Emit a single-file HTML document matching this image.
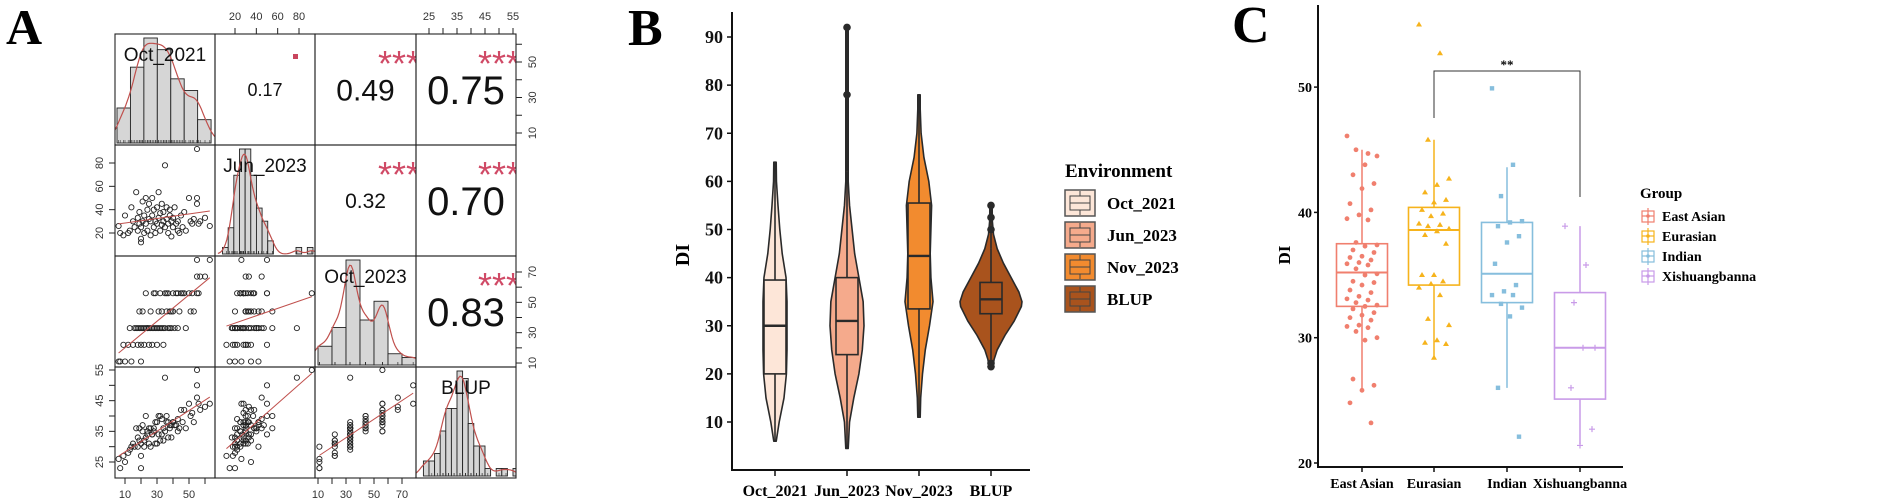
<!DOCTYPE html>
<html><head><meta charset="utf-8">
<style>
html,body{margin:0;padding:0;background:#fff;}
svg{display:block;}
text{font-family:"Liberation Sans",sans-serif;}
.serif{font-family:"Liberation Serif",serif;font-weight:bold;}
</style></head>
<body>
<svg id="fig" width="1890" height="502" viewBox="0 0 1890 502" xmlns="http://www.w3.org/2000/svg">
<text class="serif" x="6" y="44" font-size="50">A</text>
<text class="serif" x="628" y="45" font-size="52">B</text>
<text class="serif" x="1232" y="42" font-size="52">C</text>
<g id="pa"></g>
<g id="pb"></g>
<g id="pc"></g>
</svg>
<script>
// ---------- Panel A data ----------
const varNames = ["Oct_2021","Jun_2023","Oct_2023","BLUP"];
const oct21 = [6,7,9,10,12,13,14,15,16,17,18,18,19,19,20,20,20,21,21,22,22,23,23,24,24,25,25,26,26,27,27,28,28,29,29,30,30,31,31,32,32,33,33,34,34,35,35,36,36,37,37,38,38,39,39,40,40,41,42,43,43,44,45,46,47,48,50,51,52,53,55,55,55,56,57,60,63];
const jun23 = [26,20,18,35,20,22,42,30,25,55,22,33,28,38,12,15,25,47,30,20,35,50,28,40,22,32,45,18,30,35,50,25,40,30,20,42,28,33,55,22,37,27,45,30,38,25,78,32,42,20,28,35,40,30,17,25,33,42,28,22,30,20,35,25,38,22,50,30,28,32,92,45,50,28,30,33,26];
const oct23 = [11,11,22,11,22,33,11,22,33,33,22,33,33,44,22,11,33,33,44,33,22,56,33,33,33,22,33,33,44,33,22,56,33,56,33,33,22,33,44,33,56,33,44,22,33,56,33,56,44,33,56,44,33,44,33,56,44,33,56,56,33,44,56,56,56,33,56,44,56,44,56,67,78,56,67,67,78];
const blup = [26,23,27,25,28,29,30,31,30,36,30,33,32,36,27,23,31,37,35,30,32,40,33,35,34,31,36,30,36,34,34,35,36,38,31,38,31,34,40,32,40,34,39,32,36,35,52.5,40,38,33,38,37,36,37,33,38,38,37,37,39,35,36,42,38,42,36,44,40,41,38,55,46,50,44,42,43,44];
const corrValues = ["0.17","0.49","0.75","0.32","0.70","0.83"];
const corrStars = [".","***","***","***","***","***"];
const topTicksJun = [20,40,60,80];
const topTicksBlup = [25,30,35,40,45,50,55];
const rightTicksOct21 = [10,20,30,40,50,60];
const rightTicksOct23 = [10,20,30,40,50,60,70];
const leftTicksJun = [20,40,60,80];
const leftTicksBlup = [25,30,35,40,45,50,55];
const botTicksOct21 = [10,20,30,40,50,60];
const botTicksOct23 = [10,20,30,40,50,60,70];

// ---------- Panel B data ----------
const envNames = ["Oct_2021","Jun_2023","Nov_2023","BLUP"];
const envColors = ["#fde6d8","#f5aa8c","#f28b2f","#a9531d"];
const vioY = [
 [6,10,15,20,25,30,35,40,45,50,55,60,64],
 [4.5,10,15,20,25,30,35,40,45,50,55,60,65,70,80,92],
 [11,15,20,25,30,35,40,45,50,55,60,65,70,75,78],
 [21,23,25,28,31,34,35,37,40,43,46,49,52,55]];
const vioD = [
 [0.04,0.35,0.75,0.95,1,1,1,0.92,0.6,0.4,0.25,0.12,0.03],
 [0.03,0.15,0.4,0.7,0.9,1,0.95,0.7,0.45,0.3,0.15,0.07,0.04,0.03,0.03,0.03],
 [0.06,0.12,0.25,0.45,0.75,1,0.85,0.8,0.85,0.9,0.7,0.35,0.15,0.06,0.04],
 [0.05,0.1,0.2,0.45,0.75,0.98,1,0.9,0.65,0.4,0.2,0.08,0.04,0.03]];
const vioMaxHalf = [12,17,14,31];
const boxQ1 = [20,24,33.5,32.5];
const boxMed = [30,31,44.5,35.5];
const boxQ3 = [39.5,40,55.5,39];
const whLo = [6,4.5,11,23];
const whHi = [64,62,78,46];
const outliers = [[],[78,92],[],[50,52.5,55,21.5,22.2]];
const bTicks = [10,20,30,40,50,60,70,80,90];

// ---------- Panel C data ----------
const grpNames = ["East Asian","Eurasian","Indian","Xishuangbanna"];
const grpColors = ["#f07f6e","#f6b31c","#86bedd","#c99be8"];
const cQ1 = [32.5,34.2,32.8,25.1];
const cMed = [35.2,38.6,35.1,29.2];
const cQ3 = [37.5,40.4,39.2,33.6];
const cLo = [25.8,28.4,26.0,21.5];
const cHi = [45.0,45.8,43.6,38.9];
const ptsEA = [46.1,44.7,45,44.5,43.8,43,42.3,41.9,40.7,40.2,39.8,39.5,39.4,37.6,37.4,37.3,37,36.8,36.5,36.4,36.2,36,35.9,35.8,35.5,35.1,35,34.5,34.4,34.2,33.8,33.6,33.3,33.1,33,32.8,32.6,32.5,32.3,32,31.8,31.6,31.4,31,30.9,30.8,30.5,30,29.8,26.7,26.2,25.8,24.8,23.2];
const ptsEU = [55,52.7,45.8,42.7,42.2,41.6,41,40.8,40.2,39.9,39.7,39.1,39,38.9,38.7,38.5,38.2,37.5,35,35,34.5,34.3,34,33.4,31.5,31,29.8,29.6,29.5,28.4];
const ptsIN = [49.9,43.8,41.3,39.3,39.2,38.9,38.1,37.6,35.9,34.2,33.7,33.4,33.4,32.7,32.4,31.7,26,22.1];
const ptsXI = [38.9,35.8,32.8,29.2,29.2,26,22.7,21.4];
const cTicks = [20,30,40,50];

const NS="http://www.w3.org/2000/svg";
function mk(parent,tag,attrs,txt){const e=document.createElementNS(NS,tag);for(const k in attrs)e.setAttribute(k,attrs[k]);if(txt!==undefined)e.textContent=txt;parent.appendChild(e);return e;}

// ================= Panel A =================
(function(){
 const g=document.getElementById('pa');
 const colX=[115,215,315,416,516], rowY=[34,145,256,367,478];
 const data=[oct21,jun23,oct23,blup];
 const xm=[v=>125+(v-10)*1.6, v=>235+(v-20)*1.0667, v=>318+(v-10)*1.4, v=>429+(v-25)*2.8];
 const ym=[v=>62-(v-50)*1.775, v=>163-(v-80)*1.1667, v=>272-(v-70)*1.517, v=>370-(v-55)*3.067];
 const defs=mk(g,'defs',{});
 for(let r=0;r<4;r++)for(let c=0;c<4;c++){
  const cp=mk(defs,'clipPath',{id:'cl'+r+c});
  mk(cp,'rect',{x:colX[c],y:rowY[r],width:colX[c+1]-colX[c],height:rowY[r+1]-rowY[r]});
 }
 const n=oct21.length;
 let ci=0;
 for(let r=0;r<4;r++)for(let c=0;c<4;c++){
  const cell=mk(g,'g',{'clip-path':'url(#cl'+r+c+')'});
  
  
  if(r>c){
   for(let i=0;i<n;i++){
    const p=mk(cell,'circle',{cx:xm[c](data[c][i]),cy:ym[r](data[r][i]),r:2.6,fill:'none',stroke:'#222','stroke-width':0.9});
    
    
   }
   let mx=0,my=0;for(let i=0;i<n;i++){mx+=data[c][i];my+=data[r][i];}mx/=n;my/=n;
   let sxy=0,sxx=0;for(let i=0;i<n;i++){sxy+=(data[c][i]-mx)*(data[r][i]-my);sxx+=(data[c][i]-mx)**2;}
   const b=sxy/sxx;const x0=Math.min(...data[c]),x1=Math.max(...data[c]);
   const fl=mk(cell,'line',{x1:xm[c](x0),y1:ym[r](my+b*(x0-mx)),x2:xm[c](x1),y2:ym[r](my+b*(x1-mx)),stroke:'#c0504d','stroke-width':1});
   
   
  } else if(r===c){
   const v=data[r];
   const bw=[8.4,5.3,10,2][r], st=[5,3,10,21][r];
   const nb=Math.ceil((Math.max(...v)-st)/bw)+1;
   const cnt=new Array(nb).fill(0);v.forEach(x=>cnt[Math.floor((x-st)/bw)]++);
   const mxc=Math.max(...cnt);const base=rowY[r+1]-2, top=rowY[r]+4;
   const hs=(base-top)/mxc;
   for(let k=0;k<nb;k++){if(!cnt[k])continue;
    const bar=mk(cell,'rect',{x:xm[r](st+k*bw),y:base-cnt[k]*hs,width:xm[r](st+(k+1)*bw)-xm[r](st+k*bw),height:cnt[k]*hs,fill:'#d6d6d6',stroke:'#222','stroke-width':0.9});
    
    
   }
   const sd=Math.sqrt(v.reduce((a,x)=>a+x*x,0)/n-(v.reduce((a,x)=>a+x,0)/n)**2);
   const h=1.06*sd*Math.pow(n,-0.2)*0.7;
   const lo=Math.min(...v)-2*h, hi=Math.max(...v)+2*h;
   let pts=[],dmax=0;const dens=[];
   for(let s=0;s<=80;s++){const x=lo+(hi-lo)*s/80;let d=0;v.forEach(y=>d+=Math.exp(-0.5*((x-y)/h)**2));dens.push([x,d]);dmax=Math.max(dmax,d);}
   const peak=mxc*hs*0.95;
   dens.forEach(([x,d])=>pts.push(xm[r](x).toFixed(1)+','+(base-d/dmax*peak).toFixed(1)));
   const dl=mk(cell,'polyline',{points:pts.join(' '),fill:'none',stroke:'#c0504d','stroke-width':1.2});
   
   
   v.forEach(x=>{mk(cell,'line',{x1:xm[r](x),x2:xm[r](x),y1:base,y2:base-3,stroke:'#333','stroke-width':0.6});});
   const lbl=mk(cell,'text',{x:(colX[c]+colX[c+1])/2,y:rowY[r]+27,'text-anchor':'middle','font-size':19,fill:'#111'},varNames[r]);
   
   
  } else {
   const val=corrValues[ci], star=corrStars[ci]; ci++;
   const rv=parseFloat(val);
   const fs=rv<0.2?18:rv<0.4?21:rv<0.6?30:40;
   const cx=(colX[c]+colX[c+1])/2, cy=(rowY[r]+rowY[r+1])/2+fs*0.36;
   const t=mk(cell,'text',{x:cx,y:cy,'text-anchor':'middle','font-size':fs,fill:'#111'},val);
   
   
   if(star==='.'){
    const s=mk(cell,'rect',{x:colX[c+1]-22,y:rowY[r]+20,width:5,height:5,fill:'#c9455e'});
    
    
   } else {
    const s=mk(cell,'text',{x:colX[c+1]+4,y:rowY[r]+42,'text-anchor':'end','font-size':36,fill:'#d04a66'},star);
    
    
   }
  }
 }
 for(let r=0;r<4;r++)for(let c=0;c<4;c++){
  const b=mk(g,'rect',{x:colX[c],y:rowY[r],width:colX[c+1]-colX[c],height:rowY[r+1]-rowY[r],fill:'none',stroke:'#222','stroke-width':1.1});
  
  
 }
 function axis(ticks,map,side,labelEvery){
  ticks.forEach((t,i)=>{
   const p=map(t);
   let l;
   if(side==='top'){l=mk(g,'line',{x1:p,x2:p,y1:34,y2:28,stroke:'#222'});
     if(i%labelEvery===0)mk(g,'text',{x:p,y:20,'text-anchor':'middle','font-size':11,fill:'#333'},t);}
   if(side==='bottom'){l=mk(g,'line',{x1:p,x2:p,y1:478,y2:484,stroke:'#222'});
     if(i%labelEvery===0)mk(g,'text',{x:p,y:498,'text-anchor':'middle','font-size':11,fill:'#333'},t);}
   if(side==='left'){l=mk(g,'line',{x1:115,x2:109,y1:p,y2:p,stroke:'#222'});
     if(i%labelEvery===0)mk(g,'text',{x:0,y:0,'text-anchor':'middle','font-size':11,fill:'#333',transform:'translate(103,'+p+') rotate(-90)'},t);}
   if(side==='right'){l=mk(g,'line',{x1:516,x2:522,y1:p,y2:p,stroke:'#222'});
     if(i%labelEvery===0)mk(g,'text',{x:0,y:0,'text-anchor':'middle','font-size':11,fill:'#333',transform:'translate(536,'+p+') rotate(-90)'},t);}
   
   
  });
 }
 axis(topTicksJun,xm[1],'top',1);
 axis(topTicksBlup,xm[3],'top',2);
 axis(rightTicksOct21,ym[0],'right',2);
 axis(rightTicksOct23,ym[2],'right',2);
 axis(leftTicksJun,ym[1],'left',1);
 axis(leftTicksBlup,ym[3],'left',2);
 axis(botTicksOct21,xm[0],'bottom',2);
 axis(botTicksOct23,xm[2],'bottom',2);
})();

// ================= Panel B =================
(function(){
 const g=document.getElementById('pb');
 const y=v=>422-(v-10)*4.8125;
 const xs=[775,847,919,991];
 const ax=mk(g,'path',{d:'M732,12 V470 H1030',fill:'none',stroke:'#111','stroke-width':2});
 
 
 bTicks.forEach(t=>{
  mk(g,'line',{x1:727,x2:732,y1:y(t),y2:y(t),stroke:'#111','stroke-width':1.5});
  const l=mk(g,'text',{x:723,y:y(t)+6,'text-anchor':'end','font-size':18,class:'serif',fill:'#111'},t);
  
  
 });
 const yl=mk(g,'text',{x:0,y:0,'text-anchor':'middle','font-size':20,class:'serif',transform:'translate(689,255) rotate(-90)'},'DI');
 
 
 envNames.forEach((nm,i)=>{
  const cx=xs[i];
  mk(g,'line',{x1:cx,x2:cx,y1:470,y2:476,stroke:'#111','stroke-width':1.5});
  const l=mk(g,'text',{x:cx,y:496,'text-anchor':'middle','font-size':16,class:'serif'},nm);
  
  
  const Y=vioY[i],D=vioD[i],mh=vioMaxHalf[i];
  let d='M'+cx+','+y(Y[0]);
  for(let k=0;k<Y.length;k++)d+=' L'+(cx+Math.max(D[k]*mh,1.2))+','+y(Y[k]);
  for(let k=Y.length-1;k>=0;k--)d+=' L'+(cx-Math.max(D[k]*mh,1.2))+','+y(Y[k]);
  d+='Z';
  const vp=mk(g,'path',{d:d,fill:envColors[i],stroke:'#2a2a2a','stroke-width':1.6,'stroke-linejoin':'round'});
  
  
  mk(g,'line',{x1:cx,x2:cx,y1:y(whLo[i]),y2:y(whHi[i]),stroke:'#2a2a2a','stroke-width':1.6});
  const bx=mk(g,'rect',{x:cx-11,y:y(boxQ3[i]),width:22,height:y(boxQ1[i])-y(boxQ3[i]),fill:envColors[i],stroke:'#2a2a2a','stroke-width':1.6});
  
  
  mk(g,'line',{x1:cx-11,x2:cx+11,y1:y(boxMed[i]),y2:y(boxMed[i]),stroke:'#2a2a2a','stroke-width':2.4});
  if(outliers[i].length){
   const om=Math.max(...outliers[i].filter(v=>v>boxMed[i]).concat([whHi[i]]));
   mk(g,'line',{x1:cx,x2:cx,y1:y(whHi[i]),y2:y(om),stroke:'#2a2a2a','stroke-width':1.6});
  }
  outliers[i].forEach(o=>{
   const c=mk(g,'circle',{cx:cx,cy:y(o),r:3.8,fill:'#2a2a2a'});
   
   
  });
 });
 const lt=mk(g,'text',{x:1065,y:177,'font-size':19,class:'serif'},'Environment');
 
 
 envNames.forEach((nm,i)=>{
  const ky=190+i*32;
  const k=mk(g,'g',{});
  
  
  mk(k,'rect',{x:1065,y:ky,width:30,height:26,fill:envColors[i],stroke:'#555','stroke-width':1.5});
  mk(k,'rect',{x:1070,y:ky+6,width:20,height:14,fill:'none',stroke:'#444','stroke-width':1});
  mk(k,'line',{x1:1070,x2:1090,y1:ky+13,y2:ky+13,stroke:'#444','stroke-width':1});
  mk(k,'line',{x1:1080,x2:1080,y1:ky+1,y2:ky+6,stroke:'#444','stroke-width':1});
  mk(k,'line',{x1:1080,x2:1080,y1:ky+20,y2:ky+25,stroke:'#444','stroke-width':1});
  mk(k,'text',{x:1107,y:ky+19,'font-size':17,class:'serif'},nm);
 });
})();

// ================= Panel C =================
(function(){
 const g=document.getElementById('pc');
 const y=v=>463-(v-20)*12.53;
 const xs=[1362,1434,1507,1580];
 const ax=mk(g,'path',{d:'M1318,5 V467 H1623',fill:'none',stroke:'#111','stroke-width':2});
 
 
 cTicks.forEach(t=>{
  mk(g,'line',{x1:1314,x2:1318,y1:y(t),y2:y(t),stroke:'#111','stroke-width':1.5});
  const l=mk(g,'text',{x:1312,y:y(t)+5,'text-anchor':'end','font-size':14,class:'serif'},t);
  
  
 });
 const yl=mk(g,'text',{x:0,y:0,'text-anchor':'middle','font-size':17,class:'serif',transform:'translate(1290,255) rotate(-90)'},'DI');
 
 
 const pts=[ptsEA,ptsEU,ptsIN,ptsXI];
 grpNames.forEach((nm,i)=>{
  const cx=xs[i],col=grpColors[i];
  mk(g,'line',{x1:cx,x2:cx,y1:467,y2:472,stroke:'#111','stroke-width':1.5});
  const l=mk(g,'text',{x:cx,y:488,'text-anchor':'middle','font-size':14,class:'serif'},nm);
  
  
  mk(g,'line',{x1:cx,x2:cx,y1:y(cLo[i]),y2:y(cHi[i]),stroke:col,'stroke-width':1.5});
  const bx=mk(g,'rect',{x:cx-25.5,y:y(cQ3[i]),width:51,height:y(cQ1[i])-y(cQ3[i]),fill:'#fff',stroke:col,'stroke-width':1.6});
  
  
  mk(g,'line',{x1:cx-25.5,x2:cx+25.5,y1:y(cMed[i]),y2:y(cMed[i]),stroke:col,'stroke-width':2});
  pts[i].forEach((v,k)=>{
   const jx=cx+(((k*7)%11)-5)/5*15, py=y(v);
   let p;
   if(i===0)p=mk(g,'circle',{cx:jx,cy:py,r:2.4,fill:col});
   else if(i===1)p=mk(g,'path',{d:`M${jx},${py-3} L${jx+3},${py+2} L${jx-3},${py+2}Z`,fill:col});
   else if(i===2)p=mk(g,'rect',{x:jx-2.2,y:py-2.2,width:4.4,height:4.4,fill:col});
   else p=mk(g,'path',{d:`M${jx-3},${py} H${jx+3} M${jx},${py-3} V${py+3}`,stroke:col,'stroke-width':1.2});
   
   
  });
 });
 const br=mk(g,'path',{d:'M1434,118 V71 H1580 V197',fill:'none',stroke:'#333','stroke-width':1});
 
 
 const st=mk(g,'text',{x:1507,y:69,'text-anchor':'middle','font-size':13,class:'serif'},'**');
 
 
 const lt=mk(g,'text',{x:1640,y:198,'font-size':15,class:'serif'},'Group');
 
 
 grpNames.forEach((nm,i)=>{
  const ky=216+i*20,col=grpColors[i];
  const k=mk(g,'g',{});
  
  
  mk(k,'rect',{x:1642,y:ky-5,width:12,height:11,fill:'#fff',stroke:col,'stroke-width':1.2});
  mk(k,'line',{x1:1642,x2:1654,y1:ky,y2:ky,stroke:col,'stroke-width':1.2});
  mk(k,'line',{x1:1648,x2:1648,y1:ky-8,y2:ky+9,stroke:col,'stroke-width':1.2});
  mk(k,'circle',{cx:1648,cy:ky,r:1.8,fill:col});
  mk(k,'text',{x:1662,y:ky+5,'font-size':14,class:'serif'},nm);
 });
})();
</script>
</body></html>
